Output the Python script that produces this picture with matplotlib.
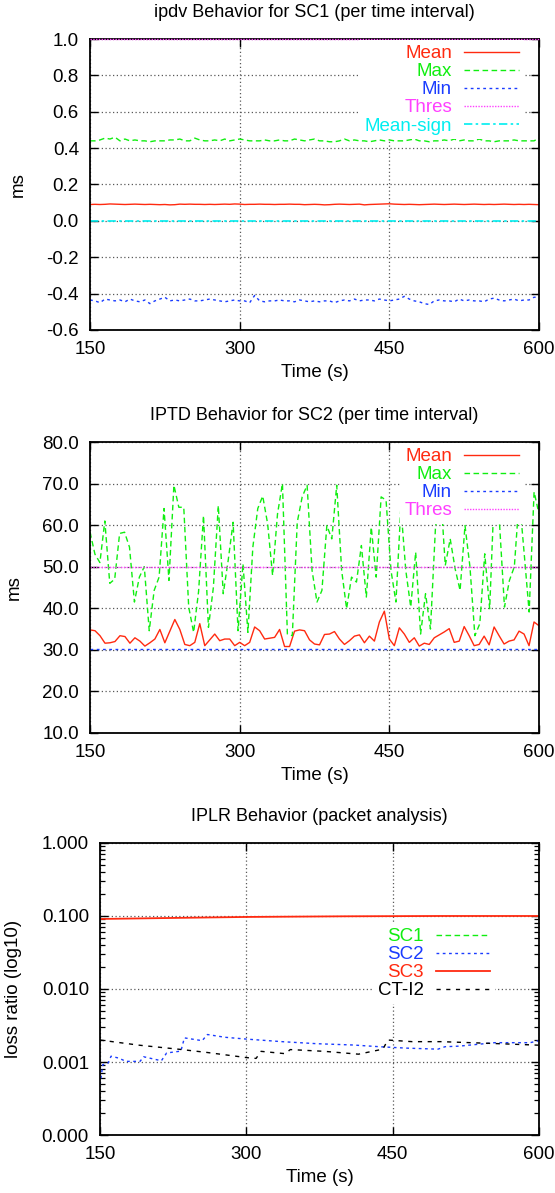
import numpy as np
import matplotlib
matplotlib.use("Agg")
import matplotlib.pyplot as plt
from matplotlib.ticker import FixedLocator, FormatStrFormatter, LogLocator, NullFormatter

plt.rcParams['font.family'] = ['Liberation Sans', 'DejaVu Sans']

# ---- panel 1: ipdv SC1 ----
mean1 = [0.090, 0.091, 0.090, 0.091, 0.093, 0.092, 0.091, 0.090, 0.091, 0.092,
         0.091, 0.090, 0.091, 0.090, 0.089, 0.090, 0.088, 0.089, 0.092, 0.091,
         0.092, 0.091, 0.091, 0.090, 0.091, 0.090, 0.091, 0.092, 0.091, 0.093,
         0.092, 0.090, 0.091, 0.091, 0.092, 0.091, 0.091, 0.090, 0.091, 0.091,
         0.092, 0.091, 0.091, 0.089, 0.090, 0.091, 0.090, 0.088, 0.089, 0.091,
         0.092, 0.091, 0.090, 0.091, 0.092, 0.088, 0.090, 0.091, 0.092, 0.093,
         0.094, 0.092, 0.091, 0.090, 0.091, 0.090, 0.089, 0.090, 0.091, 0.092,
         0.091, 0.090, 0.091, 0.092, 0.091, 0.090, 0.091, 0.092, 0.091, 0.090,
         0.091, 0.090, 0.091, 0.092, 0.091, 0.090, 0.091, 0.090, 0.091, 0.090, 0.089]
max1 = [0.440, 0.440, 0.445, 0.455, 0.450, 0.460, 0.440, 0.450, 0.440, 0.445,
        0.440, 0.440, 0.435, 0.440, 0.440, 0.440, 0.445, 0.445, 0.450, 0.440,
        0.440, 0.455, 0.445, 0.440, 0.440, 0.445, 0.440, 0.450, 0.440, 0.445,
        0.450, 0.445, 0.440, 0.440, 0.440, 0.445, 0.440, 0.440, 0.445, 0.440,
        0.440, 0.450, 0.445, 0.440, 0.445, 0.450, 0.440, 0.440, 0.435, 0.435,
        0.440, 0.450, 0.440, 0.445, 0.440, 0.440, 0.435, 0.440, 0.445, 0.440,
        0.445, 0.440, 0.440, 0.440, 0.445, 0.450, 0.440, 0.440, 0.435, 0.440,
        0.440, 0.445, 0.440, 0.450, 0.440, 0.445, 0.440, 0.440, 0.450, 0.440,
        0.440, 0.435, 0.440, 0.440, 0.440, 0.445, 0.440, 0.440, 0.440, 0.440, 0.455]
min1 = [-0.435, -0.440, -0.450, -0.430, -0.435, -0.440, -0.435, -0.445, -0.430, -0.440,
        -0.445, -0.435, -0.455, -0.440, -0.430, -0.420, -0.440, -0.435, -0.440, -0.435,
        -0.430, -0.440, -0.440, -0.435, -0.430, -0.435, -0.440, -0.445, -0.440, -0.435,
        -0.440, -0.440, -0.450, -0.410, -0.440, -0.445, -0.440, -0.440, -0.435, -0.440,
        -0.440, -0.445, -0.435, -0.440, -0.445, -0.440, -0.445, -0.440, -0.440, -0.450,
        -0.440, -0.435, -0.440, -0.430, -0.440, -0.435, -0.435, -0.440, -0.430, -0.435,
        -0.440, -0.435, -0.430, -0.415, -0.430, -0.440, -0.445, -0.455, -0.460, -0.440,
        -0.435, -0.440, -0.440, -0.445, -0.430, -0.440, -0.435, -0.440, -0.440, -0.445,
        -0.430, -0.425, -0.435, -0.440, -0.435, -0.430, -0.440, -0.435, -0.435, -0.420, -0.420]
thres1 = 1.0
meansign1 = 0.0

# ---- panel 2: IPTD SC2 ----
mean2 = [34.8, 34.6, 33.4, 31.6, 31.7, 32.0, 33.4, 33.2, 31.6, 32.9,
         32.1, 30.9, 31.7, 32.6, 34.9, 31.7, 34.5, 37.3, 34.9, 31.3,
         31.0, 31.8, 36.3, 31.0, 32.4, 33.8, 32.2, 32.6, 32.6, 31.0,
         31.8, 31.0, 31.8, 35.5, 34.6, 32.6, 32.8, 33.0, 34.9, 30.8,
         30.8, 34.5, 34.8, 34.6, 32.4, 31.4, 31.2, 33.7, 33.8, 34.4,
         32.6, 31.3, 32.2, 33.3, 33.6, 31.7, 33.3, 32.1, 36.7, 39.3,
         32.6, 31.0, 35.3, 33.8, 31.8, 32.9, 30.9, 31.6, 31.3, 32.9,
         33.6, 34.3, 35.1, 31.8, 32.1, 35.6, 33.4, 31.0, 31.3, 33.3,
         31.2, 35.5, 33.4, 31.4, 32.1, 32.4, 34.5, 33.8, 31.0, 36.7, 35.8]
max2 = [58.3, 53.0, 51.0, 61.0, 46.0, 47.0, 58.0, 58.3, 54.7, 41.5,
        47.5, 50.0, 34.6, 44.3, 47.5, 64.0, 46.7, 69.6, 64.3, 64.3,
        40.3, 34.2, 44.0, 62.3, 35.4, 45.0, 64.7, 43.5, 51.5, 60.7,
        34.6, 50.7, 34.2, 54.7, 64.0, 67.0, 60.3, 47.9, 62.7, 70.0,
        33.8, 33.4, 60.7, 66.8, 69.6, 49.1, 41.5, 44.3, 59.9, 56.7,
        69.6, 49.1, 39.9, 47.5, 46.3, 55.1, 42.7, 59.5, 47.5, 66.8,
        66.0, 49.1, 41.5, 64.3, 49.1, 40.3, 53.5, 33.8, 43.5, 35.0,
        59.1, 69.2, 50.3, 56.7, 49.5, 44.3, 59.9, 50.0, 33.4, 36.3,
        53.1, 39.9, 70.0, 60.3, 40.3, 46.7, 50.0, 66.8, 53.1, 39.1, 68.0, 62.7]
min2 = 30.2
thres2 = 50.0

# ---- panel 3: IPLR ----
sc1_t = [150, 600]
sc1_v = [0.0, 0.0]  # no loss: nothing drawn on log axis
sc2_t = [150, 152.9, 158.4, 161.3, 169.3, 176.5, 191.0, 194.7, 212.9, 218.3,
         232.9, 236.5, 254.7, 260.1, 278.3, 300.1, 336.5, 372.8, 409.2, 436.4,
         463.7, 496.4, 503.7, 518.2, 554.6, 590.9, 600]
sc2_v = [0.00049, 0.00092, 0.00097, 0.00120, 0.00113, 0.00102, 0.00102, 0.00118, 0.00104, 0.00133,
         0.00141, 0.00214, 0.00196, 0.00238, 0.00218, 0.00206, 0.00190, 0.00178, 0.00171, 0.00162,
         0.00155, 0.00150, 0.00162, 0.00165, 0.00184, 0.00184, 0.00196]
sc3_t = [150, 200, 250, 300, 350, 400, 450, 500, 550, 600]
sc3_v = [0.091, 0.093, 0.095, 0.097, 0.098, 0.099, 0.0995, 0.100, 0.100, 0.100]
ct_t = [150, 190, 230, 260, 300, 310, 315, 340, 345, 380, 415, 440, 445, 470, 500, 550, 600]
ct_v = [0.0020, 0.0017, 0.0015, 0.00135, 0.00115, 0.00112, 0.0014, 0.0013, 0.00148, 0.0014,
        0.00128, 0.0015, 0.0020, 0.0019, 0.0019, 0.0018, 0.0017]

xticks = [150, 300, 450, 600]

RED = '#ff2a10'
GREEN = '#10ee10'
BLUE = '#1a3cff'
MAGENTA = '#ff40ff'
CYAN = '#00eef0'

fig = plt.figure(figsize=(5.55, 11.93), dpi=100)
ax1 = fig.add_axes([0.1622, 0.7234, 0.809, 0.2439])
ax2 = fig.add_axes([0.1622, 0.3856, 0.809, 0.2439])
ax3 = fig.add_axes([0.1802, 0.0486, 0.791, 0.2448])


def style(ax, title, ylabel):
    ax.set_xlim(150, 600)
    ax.xaxis.set_major_locator(FixedLocator(xticks))
    ax.grid(True, which='major', color='0.35', linestyle=(0, (1, 2)), linewidth=0.9)
    ax.tick_params(which='both', direction='in', top=True, right=True, labelsize=13.5)
    ax.tick_params(which='major', length=6, width=1.0)
    ax.tick_params(axis='y', pad=8)
    ax.tick_params(axis='x', pad=8)
    for s in ax.spines.values():
        s.set_linewidth(1.3)
    ax.set_title(title, fontsize=13, pad=16)
    ax.set_xlabel('Time (s)', fontsize=13.5, labelpad=4)
    ax.set_ylabel(ylabel, fontsize=13.5, labelpad=14)


def key(ax, handles, anchor):
    leg = ax.legend(handles=handles, loc='upper right', bbox_to_anchor=anchor,
                    markerfirst=False, fontsize=13.5, frameon=True, fancybox=False,
                    framealpha=1, facecolor='white', edgecolor='none',
                    handlelength=2.9, handletextpad=0.65, labelspacing=0.05,
                    borderpad=0.25, borderaxespad=0)
    for txt, h in zip(leg.get_texts(), handles):
        txt.set_color(h.get_color())
    return leg


# panel 1
t1 = np.linspace(150, 600, len(mean1))
l_mean, = ax1.plot(t1, mean1, color=RED, lw=1.0, label='Mean')
l_max, = ax1.plot(t1, max1, color=GREEN, lw=1.0, dashes=(4, 2.5), label='Max')
l_min, = ax1.plot(t1, min1, color=BLUE, lw=1.0, dashes=(2, 2.5), label='Min')
l_thr = ax1.axhline(thres1, color=MAGENTA, lw=1.0, dashes=(1, 1), label='Thres',
                    zorder=3, clip_on=False)
l_ms = ax1.axhline(meansign1, color=CYAN, lw=1.2, dashes=(5, 2, 1.5, 2), label='Mean-sign')
ax1.set_ylim(-0.6, 1.0)
ax1.set_yticks(np.arange(-0.6, 1.01, 0.2))
ax1.yaxis.set_major_formatter(FormatStrFormatter('%.1f'))
style(ax1, 'ipdv Behavior for SC1 (per time interval)', 'ms')
key(ax1, [l_mean, l_max, l_min, l_thr, l_ms], (0.965, 0.995))

# panel 2
t2 = np.linspace(150, 600, len(mean2))
t2b = np.linspace(150, 600, len(max2))
m_mean, = ax2.plot(t2, mean2, color=RED, lw=1.0, label='Mean')
m_max, = ax2.plot(t2b, max2, color=GREEN, lw=1.0, dashes=(4, 2.5), label='Max')
m_min = ax2.axhline(min2, color=BLUE, lw=1.0, dashes=(2, 2.5), label='Min')
m_thr = ax2.axhline(thres2, color=MAGENTA, lw=1.0, dashes=(1, 1), label='Thres')
ax2.set_ylim(10, 80)
ax2.set_yticks(np.arange(10, 81, 10))
ax2.yaxis.set_major_formatter(FormatStrFormatter('%.1f'))
style(ax2, 'IPTD Behavior for SC2 (per time interval)', 'ms')
key(ax2, [m_mean, m_max, m_min, m_thr], (0.965, 0.995))

# panel 3
n_sc1, = ax3.plot(sc1_t, sc1_v, color=GREEN, lw=1.0, dashes=(4, 2.5), label='SC1')
n_sc2, = ax3.plot(sc2_t, sc2_v, color=BLUE, lw=1.0, dashes=(2, 2.5), label='SC2')
n_sc3, = ax3.plot(sc3_t, sc3_v, color=RED, lw=1.3, label='SC3')
n_ct, = ax3.plot(ct_t, ct_v, color='black', lw=1.0, dashes=(3, 4), label='CT-I2')
ax3.set_yscale('log')
ax3.set_ylim(1e-4, 1.0)
ax3.yaxis.set_major_locator(FixedLocator([1e-4, 1e-3, 1e-2, 1e-1, 1.0]))
ax3.yaxis.set_major_formatter(FormatStrFormatter('%.3f'))
ax3.yaxis.set_minor_locator(LogLocator(base=10, subs=np.arange(2, 10)))
ax3.yaxis.set_minor_formatter(NullFormatter())
ax3.tick_params(which='minor', length=3.5, width=0.9)
style(ax3, 'IPLR Behavior (packet analysis)', 'loss ratio (log10)')
key(ax3, [n_sc1, n_sc2, n_sc3, n_ct], (0.9, 0.725))

fig.savefig('out.png', dpi=100)
